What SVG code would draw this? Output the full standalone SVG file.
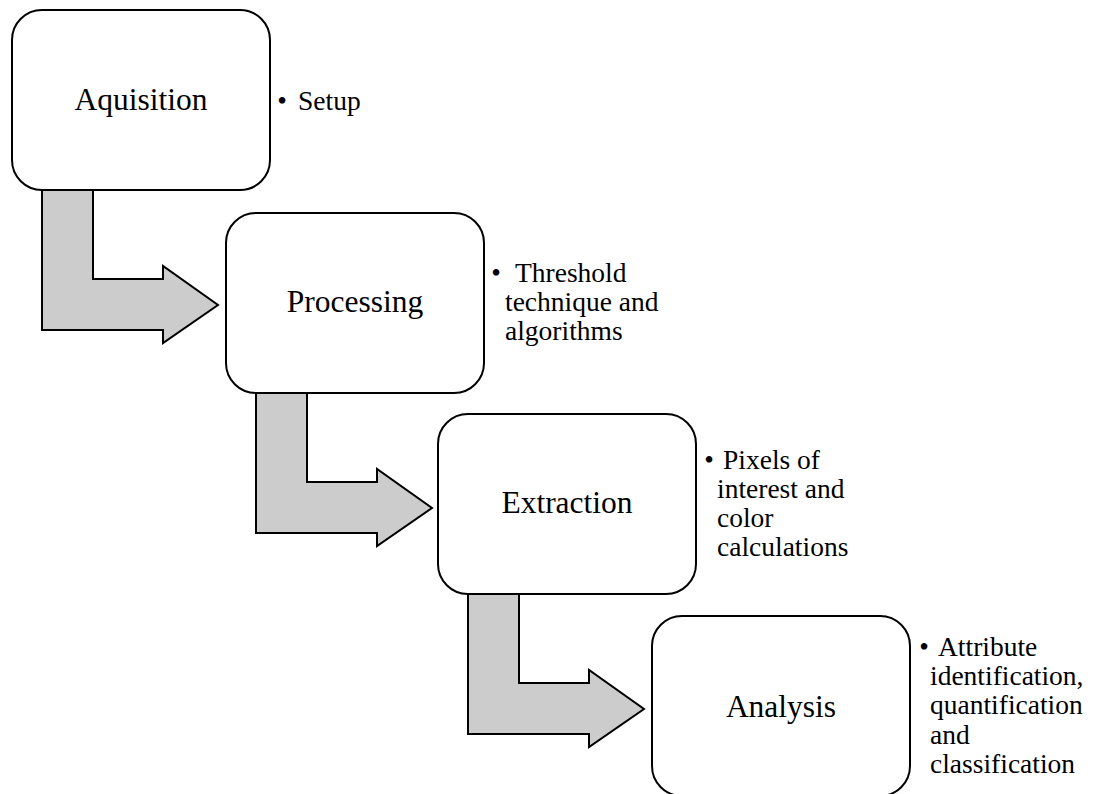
<svg xmlns="http://www.w3.org/2000/svg" width="1095" height="794" viewBox="0 0 1095 794">
  <style>
    .box { fill: #ffffff; stroke: #000000; stroke-width: 2; }
    .arrow { fill: #cccccc; stroke: #000000; stroke-width: 2; stroke-linejoin: miter; }
    .label { font-family: "Liberation Serif", "Times New Roman", serif; font-size: 31.5px; fill: #000000; text-anchor: middle; }
    .note { font-family: "Liberation Serif", "Times New Roman", serif; font-size: 27.5px; fill: #000000; }
    .dot { text-anchor: middle; }
  </style>
  <rect width="1095" height="794" fill="#ffffff"/>

  <!-- bent step arrows between stages -->
  <g id="connectors">
    <polygon class="arrow" points="42,190 93,190 93,279 163,279 163,266 218,305 163,343 163,330 42,330"/>
    <polygon class="arrow" points="256,393 307,393 307,482 377,482 377,469 432,508 377,546 377,533 256,533"/>
    <polygon class="arrow" points="468,594 519,594 519,683 589,683 589,670 644,709 589,747 589,734 468,734"/>
  </g>

  <g id="aquisition">
    <rect class="box" x="12" y="10" width="258" height="180" rx="30" ry="30"/>
    <text class="label" x="141" y="110">Aquisition</text>
    <text class="note dot" x="282" y="110">•</text>
    <text class="note" x="298" y="110">Setup</text>
  </g>

  <g id="processing">
    <rect class="box" x="226" y="213" width="258" height="180" rx="30" ry="30"/>
    <text class="label" x="355" y="312">Processing</text>
    <text class="note dot" x="496" y="282">•</text>
    <text class="note" x="515" y="282">Threshold</text>
    <text class="note" x="505" y="311">technique and</text>
    <text class="note" x="505" y="340">algorithms</text>
  </g>

  <g id="extraction">
    <rect class="box" x="438" y="414" width="258" height="180" rx="30" ry="30"/>
    <text class="label" x="567" y="513">Extraction</text>
    <text class="note dot" x="709" y="469">•</text>
    <text class="note" x="723" y="469">Pixels of</text>
    <text class="note" x="717" y="498">interest and</text>
    <text class="note" x="717" y="527">color</text>
    <text class="note" x="717" y="556">calculations</text>
  </g>

  <g id="analysis">
    <rect class="box" x="652" y="616" width="258" height="180" rx="30" ry="30"/>
    <text class="label" x="781" y="717">Analysis</text>
    <text class="note dot" x="924" y="656">•</text>
    <text class="note" x="938" y="656">Attribute</text>
    <text class="note" x="930" y="685">identification,</text>
    <text class="note" x="930" y="714">quantification</text>
    <text class="note" x="930" y="744">and</text>
    <text class="note" x="930" y="773">classification</text>
  </g>
</svg>
